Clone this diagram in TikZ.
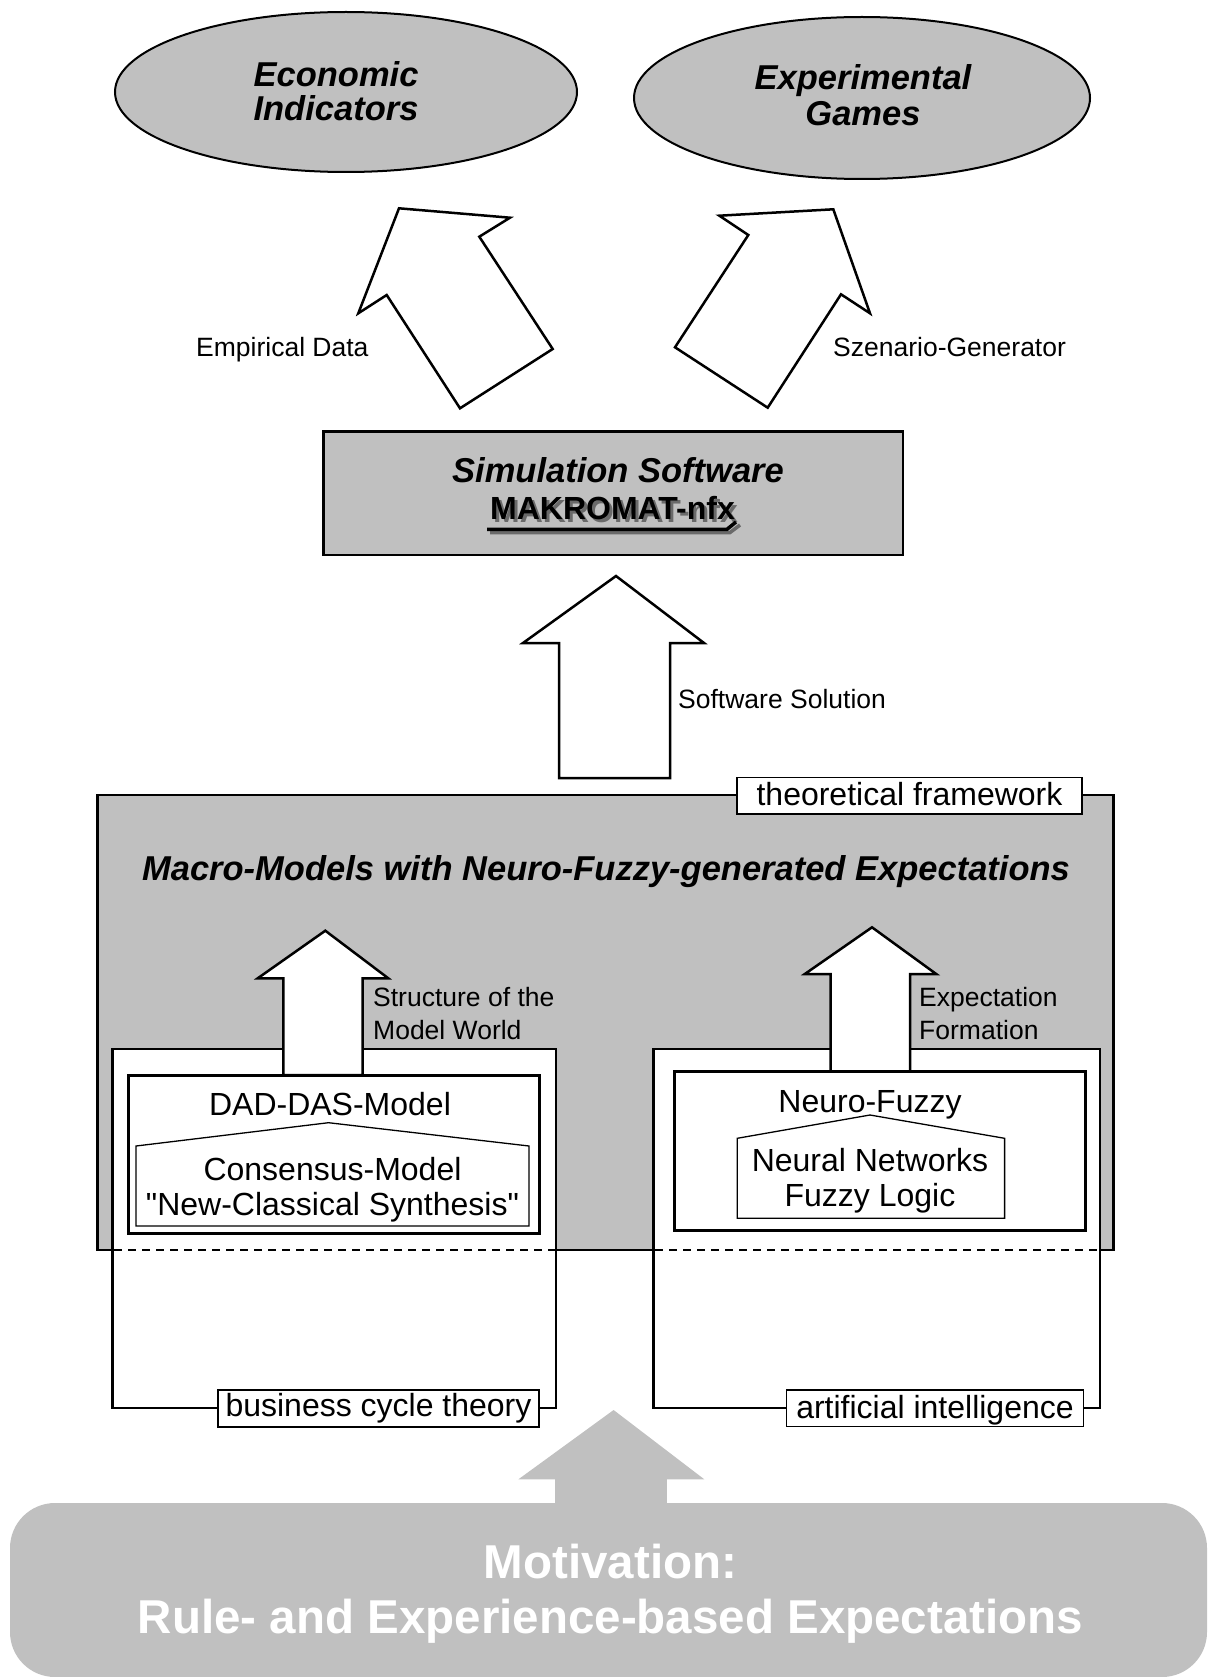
\documentclass[tikz,border=0pt]{standalone}
\usepackage{fontspec}
\setmainfont{Liberation Sans}
\definecolor{gr}{HTML}{C0C0C0}
\definecolor{shad}{HTML}{6A6A6A}
\tikzset{
 outl/.style={draw=black,line width=2.5pt,line join=miter},
 boldl/.style={draw=black,line width=3pt,line join=miter},
 thinl/.style={draw=black,line width=1.3pt},
 lbl/.style={font=\fontsize{26.5}{31}\selectfont,inner sep=0pt,anchor=base west},
 boxt/.style={font=\fontsize{32}{38}\selectfont,inner sep=0pt,anchor=base},
 bi/.style={font=\fontsize{34.5}{40}\selectfont\bfseries\itshape,inner sep=0pt,anchor=base},
 motiv/.style={font=\fontsize{47.5}{56}\selectfont\bfseries,text=white,inner sep=0pt,anchor=base},
}
\begin{document}
\begin{tikzpicture}[x=1pt,y=-1pt]
\useasboundingbox (0,0) rectangle (1207,1677);

% ---- top ellipses
\draw[fill=gr,line width=2pt] (346,92) ellipse [x radius=231pt, y radius=80pt];
\draw[fill=gr,line width=2pt] (862,98) ellipse [x radius=228pt, y radius=81pt];
\node[bi] (econ1) at (336,87) {Economic};
\node[bi] (econ2) at (336,121) {Indicators};
\node[bi] (exp1) at (863,90) {Experimental};
\node[bi] (exp2) at (863,126) {Games};

% ---- tilted arrows
\draw[outl,fill=white] (399,208.3) -- (510,217.7) -- (479.3,236.7) -- (552.7,349) -- (460,408.3) -- (386.7,295) -- (358.3,313.3) -- cycle;
\draw[outl,fill=white] (719.3,215.7) -- (833.3,209.3) -- (870,313.3) -- (841,294.3) -- (767.7,407.7) -- (675,347.3) -- (748.3,235) -- cycle;
\node[lbl] (emp) at (196,356) {Empirical Data};
\node[lbl] (szen) at (833,356) {Szenario-Generator};

% ---- simulation software box
\draw[outl,fill=gr] (323.7,431.7) rectangle (903,555);
\node[bi] (sim) at (618,482) {Simulation Software};
\draw[line width=3.5pt,shad] (490,532.5) -- (730,532.5) -- (740,525);
\node[font=\fontsize{32}{38}\selectfont\bfseries,inner sep=0pt,anchor=base,text=shad] (maks) at (615.5,522.3) {MAKROMAT-nfx};
\node[font=\fontsize{32}{38}\selectfont\bfseries,inner sep=0pt,anchor=base] (mak) at (612.5,519.3) {MAKROMAT-nfx};
\draw[line width=3.5pt] (487,529.3) -- (727,529.3) -- (736,522);

% ---- software solution arrow
\draw[outl,fill=white] (616,576) -- (704,643) -- (670,643) -- (670,778) -- (559,778) -- (559,643) -- (523,643) -- cycle;
\node[lbl] (sws) at (678,708) {Software Solution};

% ---- theoretical framework
\draw[outl,fill=gr] (97.5,795) rectangle (1113.5,1250);
\node[bi] (title) at (606,880) {Macro-Models with Neuro-Fuzzy-generated Expectations};

% frames
\draw[outl,fill=white] (112.7,1049) rectangle (556,1408);
\draw[outl,fill=white] (653.7,1049) rectangle (1099.8,1408);
\draw[line width=1.2pt,dash pattern=on 8pt off 6pt] (114,1250) -- (555,1250);
\draw[line width=1.2pt,dash pattern=on 8pt off 6pt] (655,1250) -- (1098.5,1250);

% inner arrows
\draw[outl,fill=white] (325.3,930.7) -- (388.3,978.3) -- (362.7,978.3) -- (362.7,1075) -- (283.3,1075) -- (283.3,978.3) -- (257.7,978.3) -- cycle;
\draw[outl,fill=white] (872,927.3) -- (936.2,974) -- (910,974) -- (910,1071.7) -- (830.5,1071.7) -- (830.5,974) -- (804.8,974) -- cycle;
\node[lbl] (str1) at (373,1006) {Structure of the};
\node[lbl] (str2) at (373,1039.3) {Model World};
\node[lbl] (ef1) at (919,1006) {Expectation};
\node[lbl] (ef2) at (919,1039.3) {Formation};

% inner boxes
\draw[boldl,fill=white] (128.3,1075) rectangle (539.5,1233);
\draw[boldl,fill=white] (674.8,1071.7) rectangle (1085.4,1230.7);
\draw[thinl,fill=white] (136,1226) -- (136,1146) -- (328.5,1122.7) -- (529,1146) -- (529,1226) -- cycle;
\draw[thinl,fill=white] (737.2,1218.3) -- (737.2,1138.3) -- (870,1115) -- (1004.6,1138.3) -- (1004.6,1218.3) -- cycle;
\node[boxt] (dad) at (330,1115) {DAD-DAS-Model};
\node[boxt] (cons1) at (332.5,1180) {Consensus-Model};
\node[boxt] (cons2) at (332.5,1215) {\textquotedbl New-Classical Synthesis\textquotedbl};
\node[boxt] (nf) at (870,1112) {Neuro-Fuzzy};
\node[boxt] (nn) at (870,1171.7) {Neural Networks};
\node[boxt] (fl) at (870,1206.7) {Fuzzy Logic};

% labels on frames
\draw[thinl,fill=white] (737,777.5) rectangle (1082,814);
\node[boxt] (tf) at (909.5,805) {theoretical framework};
\draw[thinl,fill=white] (218,1390) rectangle (539,1427);
\node[boxt] (bct) at (378.5,1416.7) {business cycle theory};
\draw[thinl,fill=white] (786.5,1390) rectangle (1083.4,1426.5);
\node[boxt] (ai) at (935,1418) {artificial intelligence};

% ---- motivation
\fill[gr] (613.6,1410) -- (704.3,1479.3) -- (666.9,1479.3) -- (666.9,1510) -- (555.2,1510) -- (555.2,1479.3) -- (518.4,1479.3) -- cycle;
\fill[gr,rounded corners=45pt] (10,1503) rectangle (1207,1677);
\node[motiv] (mot1) at (610.5,1578) {Motivation:};
\node[motiv] (mot2) at (610.5,1633) {Rule- and Experience-based Expectations};
\end{tikzpicture}
\end{document}
